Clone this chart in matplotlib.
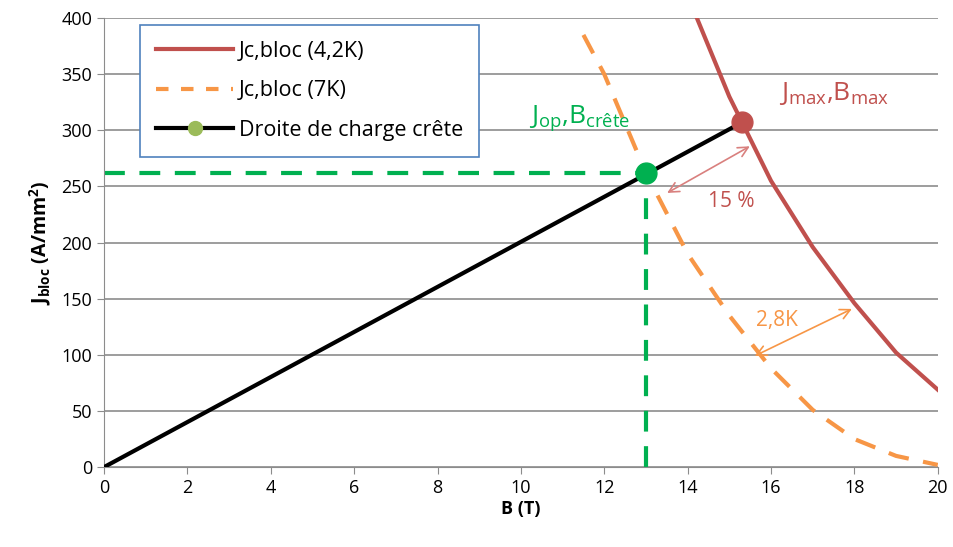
import matplotlib.pyplot as plt
from matplotlib.lines import Line2D

plt.rcParams['font.family'] = ['Open Sans', 'DejaVu Sans']
plt.rcParams['mathtext.default'] = 'regular'

# data
b_42k = [14, 15, 16, 17, 18, 19, 20]
j_42k = [420, 330, 255, 196, 146, 102, 69]
b_7k = [11.5, 12, 13, 14, 15, 16, 17, 18, 19, 20]
j_7k = [385, 350, 262, 190, 135, 88, 51, 25, 10, 2]
b_load = [0, 15.3]
j_load = [0, 307]
b_op, j_op = 13, 262
b_max, j_max = 15.3, 307

red = '#C0504D'
orange = '#F79646'
green = '#00B050'

fig, ax = plt.subplots(figsize=(9.54, 5.47), dpi=100)
fig.subplots_adjust(left=0.109, right=0.983, bottom=0.146, top=0.967)

ax.plot(b_42k, j_42k, color=red, lw=3, zorder=3)
ax.plot(b_7k, j_7k, color=orange, lw=3, ls=(0, (5, 3.5)), zorder=3)
ax.plot(b_load, j_load, color='black', lw=3, zorder=4)
ax.plot([0, b_op], [j_op, j_op], color=green, lw=3, ls=(0, (5, 3.5)), zorder=2)
ax.plot([b_op, b_op], [0, j_op], color=green, lw=3, ls=(0, (5, 3.5)), zorder=2)
ax.plot(b_op, j_op, 'o', color=green, ms=15, zorder=5)
ax.plot(b_max, j_max, 'o', color=red, ms=15, zorder=5)

ax.annotate('', xy=(15.55, 287), xytext=(13.45, 243),
            arrowprops=dict(arrowstyle='<->', color='#D9807E', lw=1.2, mutation_scale=18))
ax.annotate('', xy=(18.0, 142), xytext=(15.55, 98),
            arrowprops=dict(arrowstyle='<->', color=orange, lw=1.2, mutation_scale=18))
ax.text(14.5, 237, '15 %', color=red, fontsize=15, ha='left', va='center')
ax.text(15.65, 131, '2,8K', color=orange, fontsize=15, ha='left', va='center')
ax.text(10.2, 311, '$J_{op}$,$B_{crête}$', color=green, fontsize=19, ha='left', va='center')
ax.text(16.2, 333, '$J_{max}$,$B_{max}$', color=red, fontsize=19, ha='left', va='center')

ax.set_xlim(0, 20)
ax.set_ylim(0, 400)
ax.set_xticks(range(0, 21, 2))
ax.set_yticks(range(0, 401, 50))
ax.yaxis.grid(True, color='#8C8C8C', lw=1.2)
ax.set_axisbelow(True)
for s in ['top', 'right']:
    ax.spines[s].set_visible(False)
for s in ['left', 'bottom']:
    ax.spines[s].set_color('#8C8C8C')
ax.tick_params(colors='#8C8C8C', labelcolor='black', labelsize=13, length=5)
ax.set_xlabel('B (T)', fontsize=13, fontweight='bold', labelpad=2)
ax.set_ylabel('$J_{bloc}$ (A/mm$^2$)', fontsize=14, fontweight='bold', labelpad=6)

handles = [Line2D([], [], color=red, lw=3),
           Line2D([], [], color=orange, lw=3, ls=(0, (3, 3))),
           Line2D([], [], color='black', lw=3, marker='o', mfc='#9BBB59', mec='#9BBB59', ms=10)]
leg = ax.legend(handles, ['Jc,bloc (4,2K)', 'Jc,bloc (7K)', 'Droite de charge crête'],
                loc='upper left', bbox_to_anchor=(0.043, 0.985), fontsize=15.5,
                fancybox=False, framealpha=1, edgecolor='#4F81BD', handlelength=3.6,
                handletextpad=0.25, labelspacing=0.85, borderpad=0.75, borderaxespad=0)
leg.get_frame().set_linewidth(1.2)

fig.savefig('out.png', dpi=100)
